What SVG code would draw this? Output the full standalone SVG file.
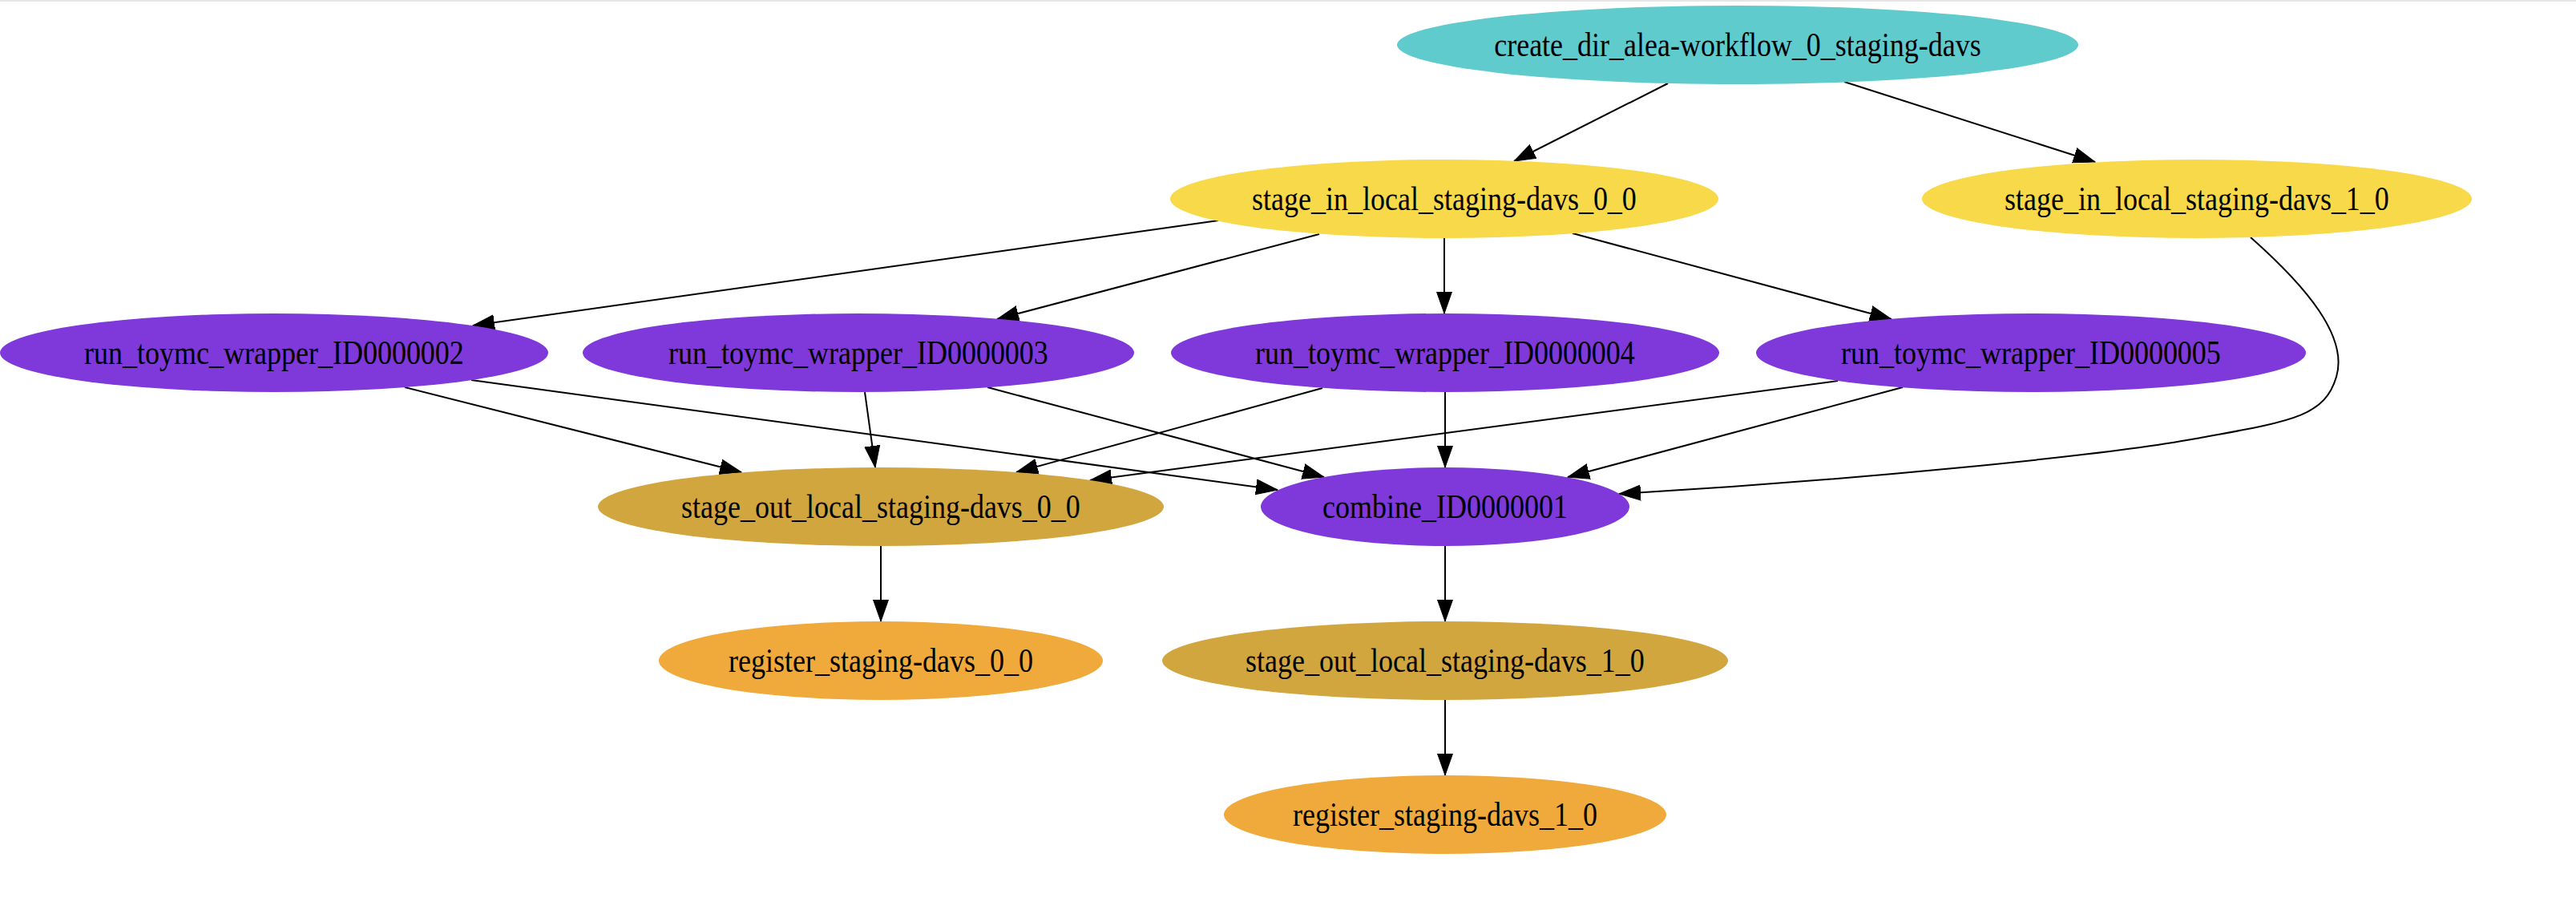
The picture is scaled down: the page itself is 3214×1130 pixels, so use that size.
<svg xmlns="http://www.w3.org/2000/svg" width="3214" height="1130" viewBox="0 0 3214 1130">
  <style>
    .bg { fill: #ffffff; }
    .node text { font-family: "Liberation Serif", "Times New Roman", serif; font-size: 36px; fill: #000000; text-anchor: middle;
                 transform-box: fill-box; transform-origin: center; transform: scaleY(1.15); }
    .create { fill: #5fcbcd; }
    .stagein { fill: #f7d94a; }
    .job { fill: #7f38d9; }
    .stageout { fill: #d1a63f; }
    .register { fill: #f0aa3b; }
    .edges path { fill: none; stroke: #000000; stroke-width: 2; marker-end: url(#arrow); }
  </style>
  <defs>
    <marker id="arrow" markerUnits="userSpaceOnUse" markerWidth="28" markerHeight="22" viewBox="0 -11 28 22" refX="27" refY="0" orient="auto">
      <path d="M0,-9.5 L27,0 L0,9.5 Z" fill="#000000" stroke="#000000" stroke-width="1"/>
    </marker>
  </defs>

  <rect class="bg" x="0" y="0" width="3214" height="1130"/>
  <rect x="0" y="0" width="3214" height="2" fill="#e6e6e6"/>

  <!-- workflow dependencies -->
  <g id="edges" class="edges">
    <path d="M2081,104 L1889,201"/>
    <path d="M2301,102 L2614,202"/>
    <path d="M1520,275 L590,406"/>
    <path d="M1646,292 L1244,398"/>
    <path d="M1802,297 L1802,391"/>
    <path d="M1962,291 L2360,398"/>
    <path d="M2808,296 C2878,358 2930,420 2915,470 S2860,525 2740,547 S2300,600 2020,616"/>
    <path d="M505,483 L925,589"/>
    <path d="M588,474 L1594,611"/>
    <path d="M1079,489 L1092,583"/>
    <path d="M1232,483 L1652,595"/>
    <path d="M1650,484 L1268,589"/>
    <path d="M1803,489 L1803,583"/>
    <path d="M2293,475 L1360,599"/>
    <path d="M2374,483 L1956,595"/>
    <path d="M1099,681 L1099,775"/>
    <path d="M1803,681 L1803,775"/>
    <path d="M1803,873 L1803,967"/>
  </g>

  <g id="create_dir_alea-workflow_0_staging-davs" class="node">
    <ellipse class="create" cx="2168" cy="56" rx="425" ry="49"/>
    <text x="2168" y="68">create_dir_alea-workflow_0_staging-davs</text>
  </g>
  <g id="stage_in_local_staging-davs_0_0" class="node">
    <ellipse class="stagein" cx="1802" cy="248" rx="342" ry="49"/>
    <text x="1802" y="260">stage_in_local_staging-davs_0_0</text>
  </g>
  <g id="stage_in_local_staging-davs_1_0" class="node">
    <ellipse class="stagein" cx="2741" cy="248" rx="343" ry="49"/>
    <text x="2741" y="260">stage_in_local_staging-davs_1_0</text>
  </g>
  <g id="run_toymc_wrapper_ID0000002" class="node">
    <ellipse class="job" cx="342" cy="440" rx="342" ry="49"/>
    <text x="342" y="452">run_toymc_wrapper_ID0000002</text>
  </g>
  <g id="run_toymc_wrapper_ID0000003" class="node">
    <ellipse class="job" cx="1071" cy="440" rx="344" ry="49"/>
    <text x="1071" y="452">run_toymc_wrapper_ID0000003</text>
  </g>
  <g id="run_toymc_wrapper_ID0000004" class="node">
    <ellipse class="job" cx="1803" cy="440" rx="342" ry="49"/>
    <text x="1803" y="452">run_toymc_wrapper_ID0000004</text>
  </g>
  <g id="run_toymc_wrapper_ID0000005" class="node">
    <ellipse class="job" cx="2534" cy="440" rx="343" ry="49"/>
    <text x="2534" y="452">run_toymc_wrapper_ID0000005</text>
  </g>
  <g id="stage_out_local_staging-davs_0_0" class="node">
    <ellipse class="stageout" cx="1099" cy="632" rx="353" ry="49"/>
    <text x="1099" y="644">stage_out_local_staging-davs_0_0</text>
  </g>
  <g id="combine_ID0000001" class="node">
    <ellipse class="job" cx="1803" cy="632" rx="230" ry="49"/>
    <text x="1803" y="644">combine_ID0000001</text>
  </g>
  <g id="register_staging-davs_0_0" class="node">
    <ellipse class="register" cx="1099" cy="824" rx="277" ry="49"/>
    <text x="1099" y="836">register_staging-davs_0_0</text>
  </g>
  <g id="stage_out_local_staging-davs_1_0" class="node">
    <ellipse class="stageout" cx="1803" cy="824" rx="353" ry="49"/>
    <text x="1803" y="836">stage_out_local_staging-davs_1_0</text>
  </g>
  <g id="register_staging-davs_1_0" class="node">
    <ellipse class="register" cx="1803" cy="1016" rx="276" ry="49"/>
    <text x="1803" y="1028">register_staging-davs_1_0</text>
  </g>
</svg>
